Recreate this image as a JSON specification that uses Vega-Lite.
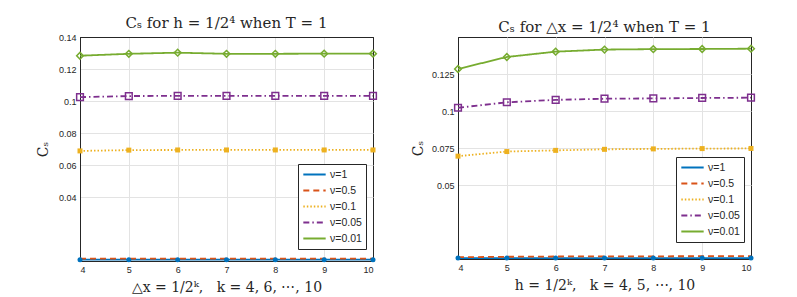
{
  "$schema": "https://vega.github.io/schema/vega-lite/v6.json",
  "background": "white",
  "padding": {"left": 35, "top": 15, "right": 5, "bottom": 0},
  "datasets": {
    "left": [
      {"k": 4, "nu": "ν=1", "Cs": 0.0008}, {"k": 5, "nu": "ν=1", "Cs": 0.0008}, {"k": 6, "nu": "ν=1", "Cs": 0.0008}, {"k": 7, "nu": "ν=1", "Cs": 0.0008}, {"k": 8, "nu": "ν=1", "Cs": 0.0008}, {"k": 9, "nu": "ν=1", "Cs": 0.0008}, {"k": 10, "nu": "ν=1", "Cs": 0.0008},
      {"k": 4, "nu": "ν=0.5", "Cs": 0.0015}, {"k": 5, "nu": "ν=0.5", "Cs": 0.0015}, {"k": 6, "nu": "ν=0.5", "Cs": 0.0015}, {"k": 7, "nu": "ν=0.5", "Cs": 0.0015}, {"k": 8, "nu": "ν=0.5", "Cs": 0.0015}, {"k": 9, "nu": "ν=0.5", "Cs": 0.0015}, {"k": 10, "nu": "ν=0.5", "Cs": 0.0015},
      {"k": 4, "nu": "ν=0.1", "Cs": 0.0688}, {"k": 5, "nu": "ν=0.1", "Cs": 0.0693}, {"k": 6, "nu": "ν=0.1", "Cs": 0.0694}, {"k": 7, "nu": "ν=0.1", "Cs": 0.0694}, {"k": 8, "nu": "ν=0.1", "Cs": 0.0694}, {"k": 9, "nu": "ν=0.1", "Cs": 0.0694}, {"k": 10, "nu": "ν=0.1", "Cs": 0.0694},
      {"k": 4, "nu": "ν=0.05", "Cs": 0.1024}, {"k": 5, "nu": "ν=0.05", "Cs": 0.1031}, {"k": 6, "nu": "ν=0.05", "Cs": 0.1032}, {"k": 7, "nu": "ν=0.05", "Cs": 0.1032}, {"k": 8, "nu": "ν=0.05", "Cs": 0.1032}, {"k": 9, "nu": "ν=0.05", "Cs": 0.1032}, {"k": 10, "nu": "ν=0.05", "Cs": 0.1032},
      {"k": 4, "nu": "ν=0.01", "Cs": 0.1283}, {"k": 5, "nu": "ν=0.01", "Cs": 0.1295}, {"k": 6, "nu": "ν=0.01", "Cs": 0.1302}, {"k": 7, "nu": "ν=0.01", "Cs": 0.1295}, {"k": 8, "nu": "ν=0.01", "Cs": 0.1295}, {"k": 9, "nu": "ν=0.01", "Cs": 0.1296}, {"k": 10, "nu": "ν=0.01", "Cs": 0.1296}
    ],
    "right": [
      {"k": 4, "nu": "ν=1", "Cs": 0.0006}, {"k": 5, "nu": "ν=1", "Cs": 0.0006}, {"k": 6, "nu": "ν=1", "Cs": 0.0006}, {"k": 7, "nu": "ν=1", "Cs": 0.0006}, {"k": 8, "nu": "ν=1", "Cs": 0.0006}, {"k": 9, "nu": "ν=1", "Cs": 0.0006}, {"k": 10, "nu": "ν=1", "Cs": 0.0006},
      {"k": 4, "nu": "ν=0.5", "Cs": 0.0012}, {"k": 5, "nu": "ν=0.5", "Cs": 0.0015}, {"k": 6, "nu": "ν=0.5", "Cs": 0.0017}, {"k": 7, "nu": "ν=0.5", "Cs": 0.0018}, {"k": 8, "nu": "ν=0.5", "Cs": 0.0018}, {"k": 9, "nu": "ν=0.5", "Cs": 0.0019}, {"k": 10, "nu": "ν=0.5", "Cs": 0.0019},
      {"k": 4, "nu": "ν=0.1", "Cs": 0.0695}, {"k": 5, "nu": "ν=0.1", "Cs": 0.0726}, {"k": 6, "nu": "ν=0.1", "Cs": 0.0734}, {"k": 7, "nu": "ν=0.1", "Cs": 0.0741}, {"k": 8, "nu": "ν=0.1", "Cs": 0.0744}, {"k": 9, "nu": "ν=0.1", "Cs": 0.0746}, {"k": 10, "nu": "ν=0.1", "Cs": 0.0747},
      {"k": 4, "nu": "ν=0.05", "Cs": 0.1022}, {"k": 5, "nu": "ν=0.05", "Cs": 0.1059}, {"k": 6, "nu": "ν=0.05", "Cs": 0.1075}, {"k": 7, "nu": "ν=0.05", "Cs": 0.1083}, {"k": 8, "nu": "ν=0.05", "Cs": 0.1085}, {"k": 9, "nu": "ν=0.05", "Cs": 0.1088}, {"k": 10, "nu": "ν=0.05", "Cs": 0.109},
      {"k": 4, "nu": "ν=0.01", "Cs": 0.1284}, {"k": 5, "nu": "ν=0.01", "Cs": 0.1365}, {"k": 6, "nu": "ν=0.01", "Cs": 0.1401}, {"k": 7, "nu": "ν=0.01", "Cs": 0.1415}, {"k": 8, "nu": "ν=0.01", "Cs": 0.1418}, {"k": 9, "nu": "ν=0.01", "Cs": 0.1419}, {"k": 10, "nu": "ν=0.01", "Cs": 0.1421}
    ]
  },
  "config": {
    "view": {"stroke": "#262626", "strokeWidth": 1},
    "axis": {
      "labelFont": "Liberation Sans", "labelFontSize": 9, "labelColor": "#262626",
      "titleFont": "DejaVu Serif", "titleFontSize": 14, "titleFontWeight": "normal", "titleColor": "#262626",
      "gridWidth": 1, "ticks": false, "domain": true, "domainColor": "#262626", "domainWidth": 1, "labelPadding": 4
    },
    "title": {"font": "DejaVu Serif", "fontSize": 15, "fontWeight": "normal", "color": "#262626", "offset": 2},
    "legend": {
      "orient": "none", "labelFont": "Liberation Sans", "labelFontSize": 10.5, "labelColor": "#262626",
      "strokeColor": "#262626", "fillColor": "white", "padding": 4, "rowPadding": 3, "clipHeight": 13,
      "symbolType": "stroke", "symbolSize": 500, "symbolStrokeWidth": 2, "labelOffset": 3, "title": null
    }
  },
  "resolve": {
    "scale": {"color": "independent", "strokeDash": "independent", "shape": "independent"},
    "legend": {"color": "independent", "strokeDash": "independent"}
  },
  "spacing": 30,
  "hconcat": [
    {
      "width": 293, "height": 224,
      "data": {"name": "left"},
      "title": "Cₛ for h = 1/2⁴ when T = 1",
      "encoding": {
        "x": {"field": "k", "type": "quantitative", "scale": {"domain": [4, 10], "nice": false, "zero": false}, "axis": {"values": [4,5,6,7,8,9,10], "gridColor": {"condition": {"test": "datum.value == 4 || datum.value == 10", "value": "#262626"}, "value": "#e3e3e3"}, "title": "△x = 1/2ᵏ,\u00a0\u00a0\u00a0k = 4, 6, ⋯, 10", "titlePadding": 6}},
        "y": {"field": "Cs", "type": "quantitative", "scale": {"domain": [0, 0.14], "nice": false}, "axis": {"values": [0.04, 0.06, 0.08, 0.1, 0.12, 0.14], "gridColor": {"condition": {"test": "datum.value >= 0.139", "value": "#262626"}, "value": "#e3e3e3"}, "format": ".4~g", "title": "Cₛ", "titlePadding": 8}}
      },
      "layer": [
        {
          "mark": {"type": "line", "strokeWidth": 1.8},
          "encoding": {
            "color": {"field": "nu", "type": "nominal", "scale": {"domain": ["ν=1", "ν=0.5", "ν=0.1", "ν=0.05", "ν=0.01"], "range": ["#0072BD", "#D95319", "#EDB120", "#7E2F8E", "#77AC30"]}, "legend": {"legendX": 218, "legendY": 127, "title": null}},
            "strokeDash": {"field": "nu", "type": "nominal", "scale": {"domain": ["ν=1", "ν=0.5", "ν=0.1", "ν=0.05", "ν=0.01"], "range": [[1, 0], [6, 4], [1.5, 2], [6, 3, 1.5, 3], [1, 0]]}, "legend": {"legendX": 218, "legendY": 127, "title": null}}
          }
        },
        {
          "transform": [{"filter": "datum.nu == 'ν=1' || datum.nu == 'ν=0.1'"}],
          "mark": {"type": "point", "filled": true, "opacity": 1},
          "encoding": {
            "color": {"field": "nu", "type": "nominal", "legend": null},
            "shape": {"field": "nu", "type": "nominal", "scale": {"domain": ["ν=1", "ν=0.1", "ν=0.05", "ν=0.01"], "range": ["circle", "square", "square", "diamond"]}, "legend": null},
            "size": {"value": 25}
          }
        },
        {
          "transform": [{"filter": "datum.nu == 'ν=0.05' || datum.nu == 'ν=0.01'"}],
          "mark": {"type": "point", "filled": false, "opacity": 1, "strokeWidth": 1.5},
          "encoding": {
            "color": {"field": "nu", "type": "nominal", "legend": null},
            "shape": {"field": "nu", "type": "nominal", "legend": null},
            "size": {"value": 45}
          }
        }
      ]
    },
    {
      "width": 293, "height": 222,
      "data": {"name": "right"},
      "title": "Cₛ for △x = 1/2⁴ when T = 1",
      "encoding": {
        "x": {"field": "k", "type": "quantitative", "scale": {"domain": [4, 10], "nice": false, "zero": false}, "axis": {"values": [4,5,6,7,8,9,10], "gridColor": {"condition": {"test": "datum.value == 4 || datum.value == 10", "value": "#262626"}, "value": "#e3e3e3"}, "title": "h = 1/2ᵏ,\u00a0\u00a0\u00a0k = 4, 5, ⋯, 10", "titlePadding": 6}},
        "y": {"field": "Cs", "type": "quantitative", "scale": {"domain": [0, 0.15], "nice": false}, "axis": {"values": [0.05, 0.075, 0.1, 0.125], "gridColor": "#e3e3e3", "format": ".4~g", "title": "Cₛ", "titlePadding": 6}}
      },
      "layer": [
        {
          "mark": {"type": "line", "strokeWidth": 1.8},
          "encoding": {
            "color": {"field": "nu", "type": "nominal", "scale": {"domain": ["ν=1", "ν=0.5", "ν=0.1", "ν=0.05", "ν=0.01"], "range": ["#0072BD", "#D95319", "#EDB120", "#7E2F8E", "#77AC30"]}, "legend": {"legendX": 218, "legendY": 120, "title": null}},
            "strokeDash": {"field": "nu", "type": "nominal", "scale": {"domain": ["ν=1", "ν=0.5", "ν=0.1", "ν=0.05", "ν=0.01"], "range": [[1, 0], [6, 4], [1.5, 2], [6, 3, 1.5, 3], [1, 0]]}, "legend": {"legendX": 218, "legendY": 120, "title": null}}
          }
        },
        {
          "transform": [{"filter": "datum.nu == 'ν=1' || datum.nu == 'ν=0.1'"}],
          "mark": {"type": "point", "filled": true, "opacity": 1},
          "encoding": {
            "color": {"field": "nu", "type": "nominal", "legend": null},
            "shape": {"field": "nu", "type": "nominal", "scale": {"domain": ["ν=1", "ν=0.1", "ν=0.05", "ν=0.01"], "range": ["circle", "square", "square", "diamond"]}, "legend": null},
            "size": {"value": 25}
          }
        },
        {
          "transform": [{"filter": "datum.nu == 'ν=0.05' || datum.nu == 'ν=0.01'"}],
          "mark": {"type": "point", "filled": false, "opacity": 1, "strokeWidth": 1.5},
          "encoding": {
            "color": {"field": "nu", "type": "nominal", "legend": null},
            "shape": {"field": "nu", "type": "nominal", "legend": null},
            "size": {"value": 45}
          }
        }
      ]
    }
  ]
}
